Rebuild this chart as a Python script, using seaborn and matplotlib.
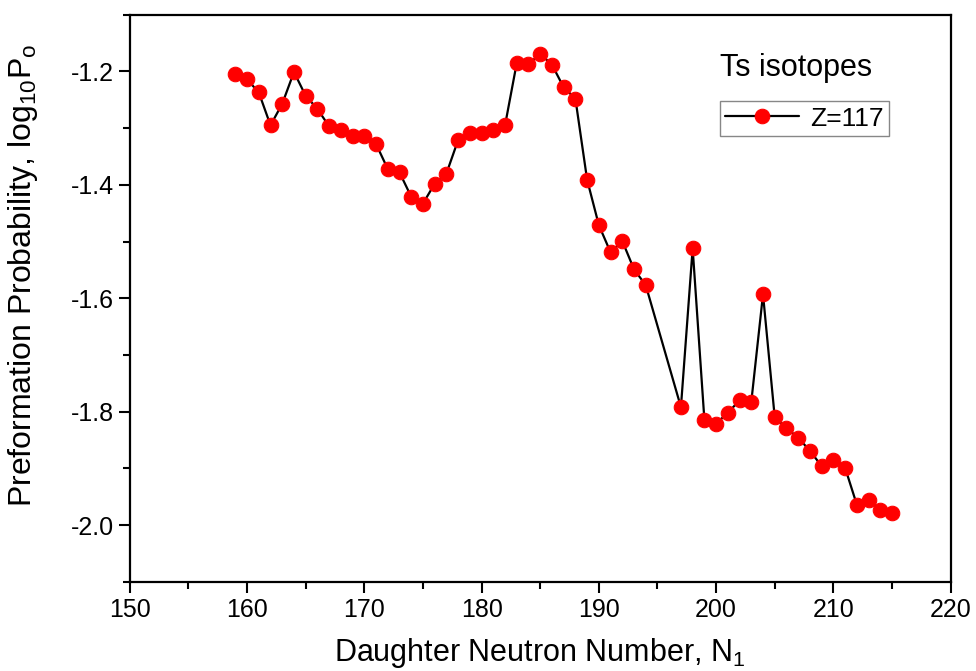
import numpy as np
import pandas as pd
import seaborn as sns
from matplotlib import pyplot as plt
from matplotlib.ticker import MultipleLocator

# === DATA
neutron_number = [159, 160, 161, 162, 163, 164, 165, 166, 167, 168,
                  169, 170, 171, 172, 173, 174, 175, 176, 177, 178,
                  179, 180, 181, 182, 183, 184, 185, 186, 187, 188,
                  189, 190, 191, 192, 193, 194, 197, 198, 199, 200,
                  201, 202, 203, 204, 205, 206, 207, 208, 209, 210,
                  211, 212, 213, 214, 215]
log_p0 = [-1.205, -1.214, -1.237, -1.295, -1.257, -1.201, -1.243, -1.266, -1.297, -1.303,
          -1.313, -1.313, -1.328, -1.372, -1.378, -1.421, -1.433, -1.398, -1.380, -1.321,
          -1.309, -1.308, -1.303, -1.295, -1.185, -1.187, -1.169, -1.188, -1.228, -1.248,
          -1.391, -1.471, -1.519, -1.499, -1.549, -1.577, -1.792, -1.512, -1.814, -1.821,
          -1.802, -1.780, -1.783, -1.593, -1.810, -1.829, -1.846, -1.869, -1.896, -1.885,
          -1.899, -1.964, -1.956, -1.973, -1.978]
series_label = 'Z=117'
panel_title = 'Ts isotopes'
x_ticks = [150, 160, 170, 180, 190, 200, 210, 220]
y_ticks = [-2.0, -1.8, -1.6, -1.4, -1.2]

df = pd.DataFrame({'N1': neutron_number, 'logP0': log_p0})

# === STYLE
sns.set_style('ticks')
plt.rcParams['font.family'] = ['Liberation Sans', 'DejaVu Sans']
plt.rcParams['mathtext.default'] = 'regular'
plt.rcParams['text.color'] = 'black'
plt.rcParams['axes.labelcolor'] = 'black'

fig, ax = plt.subplots(figsize=(9.76, 6.71), dpi=100)
fig.subplots_adjust(left=0.133, right=0.974, bottom=0.133, top=0.978)

# === PLOT
sns.lineplot(data=df, x='N1', y='logP0',
             color='black', linewidth=1.6,
             marker='o', markersize=10.5,
             markerfacecolor='red', markeredgecolor='red',
             label=series_label, ax=ax)

# === AXES
ax.set_xlim(150, 220)
ax.set_ylim(-2.1, -1.1)
ax.set_xticks(x_ticks)
ax.set_yticks(y_ticks)
ax.set_yticklabels(['{:.1f}'.format(v) for v in y_ticks])
ax.xaxis.set_minor_locator(MultipleLocator(5))
ax.yaxis.set_minor_locator(MultipleLocator(0.1))
ax.tick_params(which='major', direction='out', length=8, width=1.5,
               labelsize=18, colors='black')
ax.tick_params(which='minor', direction='out', length=5, width=1.5,
               colors='black')
for side in ['left', 'bottom', 'top', 'right']:
    ax.spines[side].set_visible(True)
    ax.spines[side].set_linewidth(1.6)
    ax.spines[side].set_color('black')

ax.set_xlabel('Daughter Neutron Number, N$_1$', fontsize=22, labelpad=10)
ax.set_ylabel('Preformation Probability, log$_{10}$P$_o$', fontsize=23)
ax.yaxis.set_label_coords(-0.11, 0.54)

# Panel title and legend
ax.text(0.812, 0.906, panel_title, transform=ax.transAxes,
        ha='center', va='center', fontsize=22)
leg = ax.legend(loc='center', bbox_to_anchor=(0.822, 0.817),
                fontsize=19, frameon=True, fancybox=False,
                handlelength=2.8, handletextpad=0.4,
                borderpad=0.2, borderaxespad=0)
leg.get_frame().set_edgecolor('dimgray')
leg.get_frame().set_linewidth(1.0)

plt.savefig('out.png', dpi=100)
